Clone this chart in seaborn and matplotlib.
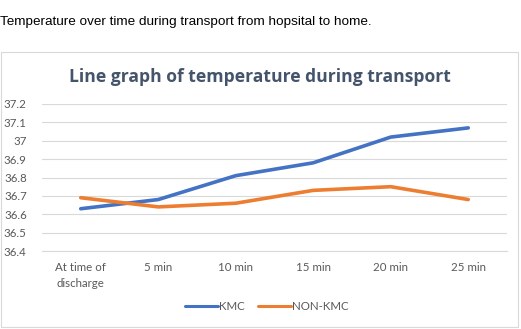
import matplotlib
matplotlib.use("Agg")
import matplotlib.pyplot as plt
import seaborn as sns
import pandas as pd
from matplotlib.patches import Rectangle
from matplotlib.lines import Line2D

categories = ["At time of\ndischarge", "5 min", "10 min", "15 min", "20 min", "25 min"]
kmc = [36.63, 36.68, 36.81, 36.88, 37.02, 37.07]
non_kmc = [36.69, 36.64, 36.66, 36.73, 36.75, 36.68]
yticks = [36.4, 36.5, 36.6, 36.7, 36.8, 36.9, 37.0, 37.1, 37.2]
ytick_labels = ["36.4", "36.5", "36.6", "36.7", "36.8", "36.9", "37", "37.1", "37.2"]

df = pd.DataFrame({
    "x": list(range(len(categories))) * 2,
    "value": kmc + non_kmc,
    "series": ["KMC"] * len(kmc) + ["NON-KMC"] * len(non_kmc),
})

sns.set_theme(style="white")
plt.rcParams["font.family"] = ["Lato", "DejaVu Sans"]

W, H = 521, 329
fig = plt.figure(figsize=(W / 100, H / 100), dpi=100)

# outer chart border
fig.patches.append(Rectangle((1 / W, 1 - 327 / H), 517 / W, 275 / H, transform=fig.transFigure,
                             fill=False, edgecolor="#D9D9D9", linewidth=0.8))

fig.text(0, 1 - 22 / H, "Temperature over time during transport from hopsital to home.",
         fontfamily=["Liberation Sans", "DejaVu Sans"], fontsize=9.7, color="#000000", va="center", ha="left")

fig.text(260 / W, 1 - 77 / H, "Line graph of temperature during transport",
         fontfamily=["Open Sans", "DejaVu Sans"], fontweight="bold", fontsize=12.6, color="#44546A",
         va="center", ha="center")

left, right, top, bottom = 42, 507, 104, 251
ax = fig.add_axes([left / W, 1 - bottom / H, (right - left) / W, (bottom - top) / H])

sns.lineplot(data=df, x="x", y="value", hue="series", palette=["#4472C4", "#ED7D31"],
             linewidth=2.6, ax=ax, legend=False)

ax.set_xlim(-0.5, len(categories) - 0.5)
ax.set_ylim(36.4, 37.2)
ax.set_yticks(yticks)
ax.set_yticklabels(ytick_labels)
ax.set_xticks(range(len(categories)))
ax.set_xticklabels(categories, linespacing=1.5)
ax.set_xticks([i - 0.5 for i in range(len(categories) + 1)], minor=True)
ax.tick_params(axis="x", which="major", length=0, pad=8, labelsize=8.3, labelcolor="#595959")
ax.tick_params(axis="x", which="minor", length=4, color="#D9D9D9", width=0.8)
ax.tick_params(axis="y", length=0, pad=11, labelsize=8.3, labelcolor="#595959")
ax.grid(axis="y", color="#D9D9D9", linewidth=0.8)
ax.set_axisbelow(True)
for s in ["left", "right", "top"]:
    ax.spines[s].set_visible(False)
ax.spines["bottom"].set_color("#D9D9D9")
ax.spines["bottom"].set_linewidth(0.8)
ax.set_xlabel("")
ax.set_ylabel("")

handles = [Line2D([], [], color="#4472C4", linewidth=2.2), Line2D([], [], color="#ED7D31", linewidth=2.2)]
fig.legend(handles, ["KMC", "NON-KMC"], loc="center", bbox_to_anchor=(267 / W, 1 - 307 / H),
           ncol=2, frameon=False, fontsize=8.3, labelcolor="#595959", handlelength=2.8,
           handletextpad=0.1, columnspacing=1.2)

fig.savefig("out.png", dpi=100, facecolor="white")
